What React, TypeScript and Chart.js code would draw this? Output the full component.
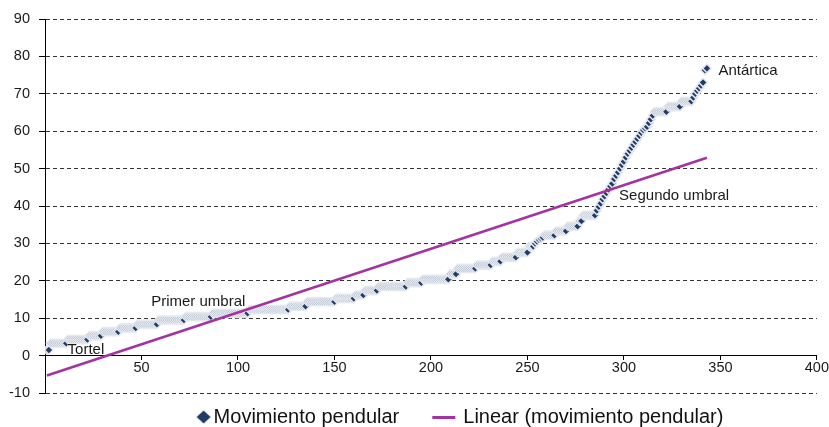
import React, { useEffect, useRef } from 'react';
import { Chart, registerables } from 'chart.js';

Chart.register(...registerables);

// Lower, slowly rising part of the series: value of each run and number of points in it
const runValues = [1.5, 3.3, 4.3, 5.3, 6.4, 7.4, 8.4, 9.5, 10.4, 11.3, 12.3, 13.2, 14.4, 15.3, 16.2, 17.4, 18.5, 19.5, 20.4, 21.8, 23.3, 24.2, 25.2, 26.3, 27.6, 29.2,
  30, 30.5, 31, 31.3, 31.6, 32.2, 33.3, 34.6, 36, 37.5];
const runCounts = [2, 9, 11, 7, 9, 9, 11, 14, 14, 19, 21, 9, 15, 10, 5, 7, 15, 8, 14, 4, 10, 8, 5, 8, 6, 3,
  1, 1, 1, 1, 1, 6, 6, 6, 2, 7];
// Upper, steep part of the series (one value per point, points 286..)
const steepValues = [38.8, 39.8, 40.7, 41.8, 42.6, 43.5, 44.4, 45.3, 46.0, 47.2, 48.1, 49.0, 50.0, 51.0, 51.9, 53.0, 54.0, 54.8, 55.6, 56.4, 57.2, 58.0, 58.8, 59.6, 60.3, 60.8, 61.2,
  62.2, 63.2, 64.2, 65.2, 65.2, 65.2, 65.2, 65.2, 65.2, 65.2, 66.6, 66.6, 66.6, 66.6, 66.6, 66.6, 66.6, 68, 68, 68, 68, 68, 68,
  69, 70, 70.8, 71.5, 72.2, 73.0, 76.3, 76.8];

const xTickMin = 0;
const xTickMax = 400;
const xTickStep = 50;
const yTickMin = -10;
const yTickMax = 90;
const yTickStep = 10;

const labelTexts = ['Tortel', 'Primer umbral', 'Segundo umbral', 'Antártica'];
const labelX = [11.7, 55, 297.5, 349];
const labelY = [1.5, 14.3, 42.6, 76.2];

const seriesName = 'Movimiento pendular';
const trendName = 'Linear (movimiento pendular)';

const NAVY = '#1f3c66';
const PURPLE = '#a3339f';
const FONT = '"Liberation Sans", Arial, Helvetica, sans-serif';
const LEGEND_SHIFT = 34;

function buildSeries() {
  const ys: number[] = [];
  runValues.forEach((v, i) => {
    for (let k = 0; k < runCounts[i]; k++) ys.push(v);
  });
  steepValues.forEach((v) => ys.push(v));
  return ys.map((y, i) => ({ x: i + 1, y }));
}

function regression(pts: { x: number; y: number }[]) {
  const n = pts.length;
  let sx = 0, sy = 0, sxx = 0, sxy = 0;
  pts.forEach((p) => { sx += p.x; sy += p.y; sxx += p.x * p.x; sxy += p.x * p.y; });
  const b = (n * sxy - sx * sy) / (n * sxx - sx * sx);
  const a = (sy - b * sx) / n;
  return { a, b };
}

function makeDiamond() {
  const c = document.createElement('canvas');
  c.width = 56; c.height = 18;
  const g = c.getContext('2d')!;
  g.fillStyle = NAVY;
  g.beginPath();
  g.moveTo(48, 2.5);
  g.lineTo(55, 9);
  g.lineTo(48, 15.5);
  g.lineTo(41, 9);
  g.closePath();
  g.fill();
  return c;
}

function makeLine() {
  const c = document.createElement('canvas');
  c.width = 56; c.height = 18;
  const g = c.getContext('2d')!;
  g.strokeStyle = PURPLE;
  g.lineWidth = 3;
  g.beginPath();
  g.moveTo(27, 9.5);
  g.lineTo(50, 9.5);
  g.stroke();
  return c;
}

const pointLabelPlugin = {
  id: 'pointLabels',
  afterLayout(chart: any) {
    if (chart.legend) {
      chart.legend.left += LEGEND_SHIFT;
      chart.legend.right += LEGEND_SHIFT;
    }
  },
  afterDatasetsDraw(chart: any) {
    const { ctx, scales } = chart;
    ctx.save();
    ctx.font = `15px ${FONT}`;
    ctx.fillStyle = '#1a1a1a';
    ctx.textAlign = 'left';
    ctx.textBaseline = 'middle';
    labelTexts.forEach((t, i) => {
      ctx.fillText(t, scales.x.getPixelForValue(labelX[i]), scales.y.getPixelForValue(labelY[i]));
    });
    ctx.restore();
  },
};

export default function App() {
  const ref = useRef<HTMLCanvasElement>(null);

  useEffect(() => {
    if (!ref.current) return;
    const pts = buildSeries();
    const { a, b } = regression(pts);
    const x0 = pts[0].x;
    const x1 = pts[pts.length - 1].x;
    const trend = [{ x: x0, y: a + b * x0 }, { x: x1, y: a + b * x1 }];
    const diamondImg = makeDiamond();
    const lineImg = makeLine();

    Chart.defaults.font.family = FONT;

    const chart = new Chart(ref.current, {
      type: 'scatter',
      data: {
        datasets: [
          {
            label: seriesName,
            data: pts,
            order: 1,
            pointStyle: 'rectRot',
            pointRadius: 4.3,
            pointBorderWidth: 1.5,
            backgroundColor: NAVY,
            borderColor: '#e6e9ef',
            showLine: false,
          },
          {
            type: 'line',
            label: trendName,
            data: trend,
            order: 0,
            borderColor: PURPLE,
            backgroundColor: PURPLE,
            borderWidth: 2.5,
            pointRadius: 0,
            fill: false,
          },
        ],
      },
      options: {
        responsive: false,
        animation: false,
        devicePixelRatio: 1,
        layout: { padding: { left: 0, right: 10, top: 19, bottom: -10 } },
        plugins: {
          tooltip: { enabled: false },
          legend: {
            position: 'bottom',
            labels: {
              usePointStyle: true,
              pointStyleWidth: 40,
              boxHeight: 14,
              padding: 14,
              color: '#111',
              font: { size: 20, family: FONT },
              sort: (p: any, q: any) => p.datasetIndex - q.datasetIndex,
              generateLabels: (c: any) =>
                (Chart.defaults.plugins.legend.labels as any).generateLabels(c).map((l: any) => ({
                  ...l,
                  pointStyle: l.datasetIndex === 0 ? diamondImg : lineImg,
                })),
            },
          },
        },
        scales: {
          x: {
            type: 'linear',
            position: { y: 0 } as any,
            min: xTickMin,
            max: xTickMax,
            afterFit: (s: any) => { s.height = 0.7; },
            ticks: {
              stepSize: xTickStep,
              padding: 0,
              color: '#1a1a1a',
              font: { size: 14.5 },
              maxRotation: 0,
              callback: (v: any) => (v === 0 ? '' : String(v)),
            },
            grid: { drawOnChartArea: false, drawTicks: true, tickLength: 4, tickColor: '#000', color: '#000' },
            border: { display: true, color: '#000', width: 1 },
          },
          y: {
            type: 'linear',
            min: yTickMin,
            max: yTickMax,
            afterFit: (s: any) => { s.width = 45; },
            ticks: { stepSize: yTickStep, padding: 9, color: '#1a1a1a', font: { size: 14.5 } },
            grid: { color: '#333', lineWidth: 1, tickLength: 6, tickColor: '#000', tickBorderDash: [] },
            border: { display: true, color: '#000', width: 1, dash: [4, 3] },
          },
        },
      },
      plugins: [pointLabelPlugin],
    } as any);

    return () => chart.destroy();
  }, []);

  return (
    <div style={{ width: 829, height: 427 }}>
      <style>{'body{margin:0}'}</style>
      <canvas ref={ref} width={829} height={427} style={{ display: 'block' }} />
    </div>
  );
}
